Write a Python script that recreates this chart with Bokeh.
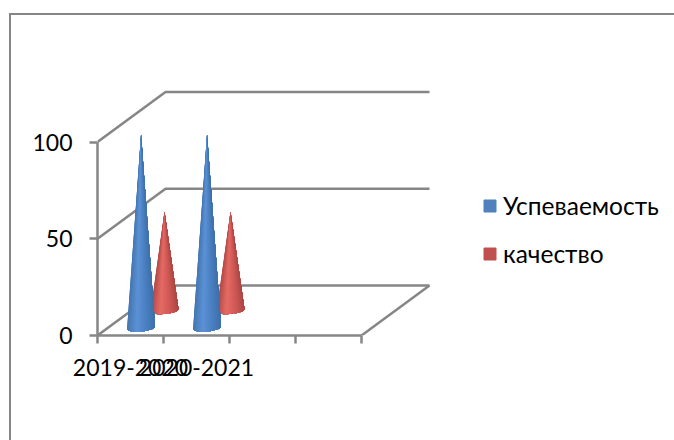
from bokeh.plotting import figure
from bokeh.models import (Range1d, LinearAxis, FixedTicker, Legend, LegendItem)
from bokeh.embed import file_html
from bokeh.resources import INLINE
import math

categories = ["2019-2020", "2020-2021"]
slots = 4
uspevaemost = [100, 100]
kachestvo = [51, 51]
value_ticks = [0, 50, 100]
series_names = ["Успеваемость", "качество"]
series_colors = ["#4f81bd", "#c0504d"]

FONT = "Lato"
GRAY = "#868686"
LW = 2.5
W, H = 674, 440
LEFT, BOTTOM = 97, 105
PX_X, PX_Y = 66.0, 1.935   # px per slot / per value unit
DX, DY = 68 / PX_X, 50 / PX_Y  # full depth offset in data units


def mix(a, b, t):
    ca = [int(a[i:i + 2], 16) for i in (1, 3, 5)]
    cb = [int(b[i:i + 2], 16) for i in (1, 3, 5)]
    return "#%02x%02x%02x" % tuple(round(x + (y - x) * t) for x, y in zip(ca, cb))


BLUE_STOPS = [(0, "#4576b0"), (0.35, "#5b92d6"), (0.7, "#4a7fc0"), (1, "#3f70aa")]
RED_STOPS = [(0, "#b04a47"), (0.35, "#e66a66"), (0.7, "#cf5955"), (1, "#ac4744")]


def shade(stops, t):
    for (t0, c0), (t1, c1) in zip(stops, stops[1:]):
        if t <= t1:
            return mix(c0, c1, (t - t0) / (t1 - t0))
    return stops[-1][1]


# chart-area frame: only its top and left edges reach the page
frame_css = (
    ":host::before{content:'';position:absolute;z-index:10;pointer-events:none;box-sizing:border-box;"
    "left:9px;top:13px;right:0;bottom:0;border-left:2px solid %s;border-top:2px solid %s;}" % (GRAY, GRAY)
)

p = figure(width=W, height=H, output_backend="svg", toolbar_location=None,
           x_range=Range1d(0, (W - LEFT) / PX_X), y_range=Range1d(0, (H - BOTTOM) / PX_Y),
           x_axis_location=None, y_axis_location=None,
           min_border_left=LEFT, min_border_bottom=BOTTOM, min_border_top=0, min_border_right=0,
           stylesheets=[frame_css])
p.xgrid.visible = False
p.ygrid.visible = False
p.outline_line_color = None
p.background_fill_color = "white"

# walls and floor
for v in value_ticks:
    p.line([0, DX, slots + DX], [v, v + DY, v + DY], line_color=GRAY, line_width=LW)
p.line([slots, slots + DX], [0, DY], line_color=GRAY, line_width=LW)


def cone(cx, depth, value, half_w, half_e, stops):
    x0 = cx + depth * DX
    y0 = depth * DY
    n = 30
    tilt = 1.2 / PX_Y
    xs, ys, cols = [], [], []
    for i in range(n):
        angs = [math.pi * (1 - k / n) for k in range(i, n + 1)]
        xs.append([x0 + half_w * math.cos(a) for a in angs] + [x0])
        ys.append([y0 - half_e * math.sin(a) + tilt * math.cos(a) for a in angs] + [y0 + value])
        cols.append(shade(stops, (1 - math.cos(math.pi * (i + 0.5) / n)) / 2))
    p.patches(xs, ys, fill_color=cols, line_color=None)


for i in range(len(categories)):
    cone(i + 0.5, 0.5, kachestvo[i], 14.0 / PX_X, 3.5 / PX_Y, RED_STOPS)
    cone(i + 0.5, 0.155, uspevaemost[i], 14.0 / PX_X, 3.8 / PX_Y, BLUE_STOPS)

# axes
ya = LinearAxis(ticker=FixedTicker(ticks=value_ticks), bounds=(0, 100))
ya.axis_line_color = GRAY
ya.axis_line_width = LW
ya.major_tick_line_color = GRAY
ya.major_tick_line_width = LW
ya.major_tick_out = 8
ya.major_tick_in = 0
ya.minor_tick_line_color = None
ya.major_label_standoff = 17
ya.major_label_text_font = FONT
ya.major_label_text_font_size = "23px"
ya.major_label_text_color = "black"
p.add_layout(ya, "left")

xa = LinearAxis(ticker=FixedTicker(ticks=list(range(slots + 1))), bounds=(0, slots))
xa.axis_line_color = GRAY
xa.axis_line_width = LW
xa.major_tick_line_color = GRAY
xa.major_tick_line_width = LW
xa.major_tick_out = 8
xa.major_tick_in = 0
xa.minor_tick_line_color = None
xa.major_label_overrides = {t: "" for t in range(slots + 1)}
xa.major_label_standoff = 0
p.add_layout(xa, "below")

la = LinearAxis(ticker=FixedTicker(ticks=[i + 0.5 for i in range(len(categories))]),
                major_label_overrides={i + 0.5: c for i, c in enumerate(categories)})
la.axis_line_color = None
la.major_tick_line_color = None
la.minor_tick_line_color = None
la.major_tick_out = 0
la.major_tick_in = 0
la.major_label_standoff = 15
la.major_label_text_font = FONT
la.major_label_text_font_size = "23px"
la.major_label_text_color = "black"
p.add_layout(la, "below")

# legend
items = []
for name, col in zip(series_names, series_colors):
    r = p.quad(left=[float("nan")], right=[float("nan")], top=[float("nan")], bottom=[float("nan")],
               fill_color=col, line_color=col)
    items.append(LegendItem(label=name, renderers=[r]))
leg = Legend(items=items, location=(482 - LEFT, H - BOTTOM - 268), orientation="vertical",
             glyph_width=15, glyph_height=15, label_standoff=6, spacing=19, padding=0, margin=0,
             background_fill_alpha=0, border_line_color=None,
             label_text_font=FONT, label_text_font_size="24.5px", label_text_color="black",
             label_height=24)
p.add_layout(leg, "center")

open("out.html", "w").write(file_html(p, INLINE))
